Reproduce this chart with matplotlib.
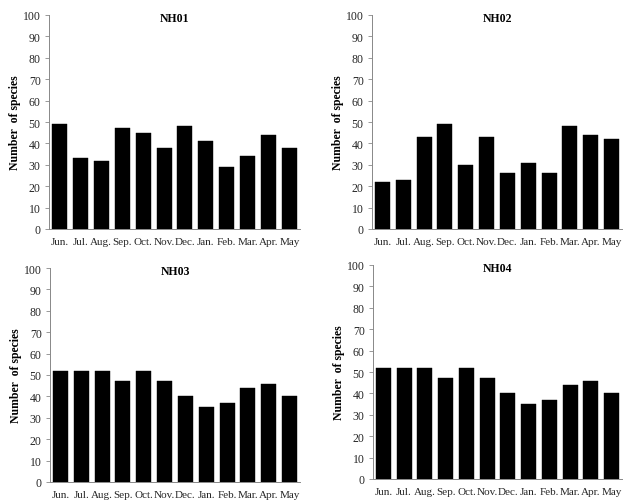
import matplotlib
matplotlib.use("Agg")
import matplotlib.pyplot as plt

months = ["Jun.", "Jul.", "Aug.", "Sep.", "Oct.", "Nov.", "Dec.", "Jan.", "Feb.", "Mar.", "Apr.", "May"]
nh01 = [49, 33, 32, 47, 45, 38, 48, 41, 29, 34, 44, 38]
nh02 = [22, 23, 43, 49, 30, 43, 26, 31, 26, 48, 44, 42]
nh03 = [52, 52, 52, 47, 52, 47, 40, 35, 37, 44, 46, 40]
nh04 = [52, 52, 52, 47, 52, 47, 40, 35, 37, 44, 46, 40]
titles = ["NH01", "NH02", "NH03", "NH04"]
yticks = list(range(0, 101, 10))

plt.rcParams['font.family'] = ['Liberation Serif', 'DejaVu Serif']

fig = plt.figure(figsize=(6.33, 5.02), dpi=100)
W, H = 633, 502
boxes = [(49, 300, 16, 230), (372, 622, 16, 230), (50, 300, 269, 483), (373, 622, 266, 480)]
data = [nh01, nh02, nh03, nh04]

for (x0, x1, yt, yb), vals, title in zip(boxes, data, titles):
    ax = fig.add_axes([x0 / W, 1 - yb / H, (x1 - x0) / W, (yb - yt) / H])
    x = list(range(len(months)))
    ax.bar(x, vals, width=0.72, color='black', edgecolor='black', linewidth=0.3)
    ax.set_xlim(-0.5, len(months) - 0.5)
    ax.set_ylim(0, 100)
    ax.set_yticks(yticks)
    ax.set_xticks(x)
    ax.set_xticklabels(months, fontsize=8, color='#262626')
    ax.tick_params(axis='x', length=0, pad=6)
    ax.tick_params(axis='y', length=3, width=0.6, color='#888888', labelsize=8.5,
                   labelcolor='#262626', pad=3, direction='out')
    for s in ['top', 'right']:
        ax.spines[s].set_visible(False)
    for s in ['left', 'bottom']:
        ax.spines[s].set_color('#888888')
        ax.spines[s].set_linewidth(0.7)
    ax.set_ylabel("Number  of species", fontsize=8.5, fontweight='bold')
    ax.yaxis.set_label_coords(-28 / (x1 - x0), 0.5)
    ax.text(0.5, 0.985, title, transform=ax.transAxes, ha='center', va='center',
            fontsize=8.5, fontweight='bold')

fig.savefig("out.png", dpi=100)
